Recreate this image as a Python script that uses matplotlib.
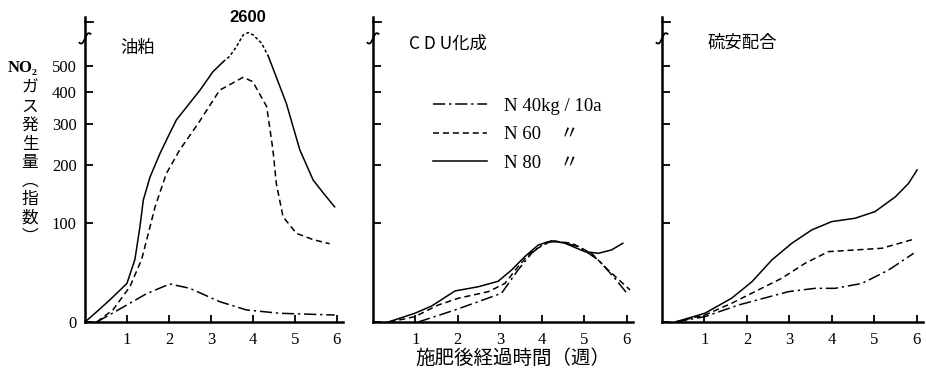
import numpy as np
import matplotlib.pyplot as plt
from matplotlib.lines import Line2D
import matplotlib.transforms as mtransforms

plt.rcParams['font.family'] = ['Liberation Serif', 'Noto Sans CJK JP']
JP = ['Noto Sans CJK JP', 'DejaVu Sans']

# ---- data (weeks after fertilising, NO2 index) ----
# 油粕 (oil cake)
oil_w40 = [0.28, 0.91, 1.47, 2.02, 2.5, 3.21, 3.85, 4.64, 5.95]
oil_v40 = [0, 11, 22, 30.5, 26.6, 15.3, 8.8, 6.3, 5]
oil_w60 = [0.28, 0.67, 1.07, 1.35, 1.51, 1.67, 1.94, 2.26, 2.7, 3.21, 3.77, 4.0, 4.33, 4.48, 4.56, 4.72, 5.04, 5.44, 5.83]
oil_v60 = [0, 9, 28, 55, 86, 124, 183, 234, 302, 407, 455, 438, 352, 234, 164, 109, 86, 78, 73]
oil_w80 = [0, 0.3, 0.6, 1.0, 1.19, 1.31, 1.39, 1.55, 1.79, 2.02, 2.18, 2.74, 3.05, 3.29,
           3.45, 3.61, 3.77, 3.89, 4.01, 4.21, 4.37, 4.8, 5.12, 5.44, 5.7, 5.95]
oil_v80 = [0, 8, 17, 31, 55, 95, 135, 176, 226, 275, 312, 407, 477, 518,
           543, 588, 2180, 2600, 2180, 743, 543, 362, 234, 170, 145, 124]

# CDU化成
cdu_w40 = [1.07, 1.94, 2.49, 3.04, 3.43, 3.75, 4.07, 4.38, 4.86, 5.33, 5.72, 6.04]
cdu_v40 = [0, 8.8, 15.3, 22.3, 43.9, 61.8, 74.3, 76, 69.6, 54.5, 35.8, 20.8]
cdu_w60 = [0.39, 0.99, 1.54, 2.02, 2.73, 3.12, 3.43, 3.75, 4.22, 4.70, 5.17, 5.56, 6.08]
cdu_v60 = [0, 3.8, 12.6, 18.1, 23.7, 31, 47.3, 63.7, 76.6, 73.6, 61.8, 43.9, 25.2]
cdu_w80 = [0.36, 0.99, 1.39, 1.94, 2.49, 2.96, 3.28, 3.59, 3.91, 4.22, 4.54, 5.01, 5.33, 5.64, 5.91]
cdu_v80 = [0, 6.3, 11.9, 24.3, 28, 33, 44, 58, 71.5, 76.6, 73.6, 63.7, 61.8, 65.6, 73.6]

# 硫安配合
sul_w40 = [0.31, 1.01, 1.8, 2.98, 3.61, 4.08, 4.71, 5.34, 5.93]
sul_v40 = [0, 3.8, 12.6, 23.7, 26.6, 26.6, 31, 43.9, 61.8]
sul_w60 = [0.31, 1.01, 1.64, 2.27, 2.82, 3.37, 3.92, 4.55, 5.18, 5.93]
sul_v60 = [0, 5, 14, 25.2, 35.8, 50.8, 63.7, 65.6, 67.6, 78.5]
sul_w80 = [0.31, 1.01, 1.64, 2.12, 2.59, 3.06, 3.53, 4.0, 4.55, 5.02, 5.5, 5.81, 6.01]
sul_v80 = [0, 6.3, 18.1, 32.6, 54.5, 73.6, 90.6, 102, 106.8, 116.6, 140.4, 164, 190]

titles = ['油粕', 'C D U化成', '硫安配合']
legend_labels = ['N 40kg / 10a', 'N 60    〃', 'N 80    〃']
yticks = [0, 100, 200, 300, 400, 500]
xticks = [1, 2, 3, 4, 5, 6]
peak_label = 2600

# ---- broken index axis: log(1+v/100) up to 600, compressed above ----
F600 = np.log(7)
D = 0.081


def fwd(v):
    v = np.asarray(v, float)
    low = np.log1p(np.maximum(v, -99) / 100)
    high = F600 + (v - 600) / 2000 * D
    return np.where(v <= 600, low, high)


def inv(f):
    f = np.asarray(f, float)
    low = 100 * np.expm1(np.minimum(f, 5))
    high = 600 + (f - F600) / D * 2000
    return np.where(f <= F600, low, high)


styles = {
    40: dict(ls=(0, (8, 2.5, 1.5, 2.5)), lw=1.1),
    60: dict(ls=(0, (4, 2.5)), lw=1.1),
    80: dict(ls='-', lw=1.1),
}

fig = plt.figure(figsize=(9.26, 3.73), dpi=100)
W, H = 926, 373
lefts = [85, 373, 662]
widths = [258, 260, 261]
bottom = (H - 322) / H
height = 305 / H

panels = [
    [(oil_w40, oil_v40), (oil_w60, oil_v60), (oil_w80, oil_v80)],
    [(cdu_w40, cdu_v40), (cdu_w60, cdu_v60), (cdu_w80, cdu_v80)],
    [(sul_w40, sul_v40), (sul_w60, sul_v60), (sul_w80, sul_v80)],
]
title_pos = [(0.136, 0.898), (0.138, 0.911), (0.173, 0.915)]

axes = []
for i in range(3):
    ax = fig.add_axes([lefts[i] / W, bottom, widths[i] / W, height])
    ax.set_yscale('function', functions=(fwd, inv))
    ax.set_xlim(0, 6.15)
    ax.set_ylim(0, 5290)
    for s in ['top', 'right']:
        ax.spines[s].set_visible(False)
    for s in ['left', 'bottom']:
        ax.spines[s].set_linewidth(1.8)
    ax.set_xticks(xticks)
    ax.set_xticklabels([str(t) for t in xticks], fontsize=12)
    ax.tick_params(axis='x', direction='in', length=5, width=1.3, pad=7)
    ax.set_yticks(yticks)
    if i == 0:
        ax.set_yticklabels([str(t) for t in yticks], fontsize=12)
    else:
        ax.set_yticklabels([''] * len(yticks))
    ax.tick_params(axis='y', direction='in', length=6, width=1.3, pad=6)
    ax.minorticks_off()

    for n, (w, v) in zip([40, 60, 80], panels[i]):
        w = np.array(w)
        v = np.array(v)
        if i == 0 and n == 80:
            # part above the break drawn dotted, as in the original
            lo = w <= 3.29
            hi = w >= 4.37
            mid = (w >= 3.29) & (w <= 4.37)
            ax.plot(w[lo], v[lo], color='k', **styles[n])
            ax.plot(w[hi], v[hi], color='k', **styles[n])
            ax.plot(w[mid], v[mid], color='k', lw=1.1, ls=(0, (2, 1.5)))
        else:
            ax.plot(w, v, color='k', **styles[n])

    ax.text(title_pos[i][0], title_pos[i][1], titles[i], transform=ax.transAxes,
            fontsize=12.5, family=JP, ha='left', va='center')

    # axis break mark and top tick
    t = np.linspace(-1, 1, 30)
    bx = (5.5 * t) / widths[i]
    by = 0.93 + (4.5 * t + 2.5 * np.sin(np.pi * t)) / 305
    ax.plot(bx, by, color='k', lw=1.3, transform=ax.transAxes, clip_on=False)
    ax.plot([0, 8 / widths[i]], [0.982, 0.982], color='k', lw=1.3,
            transform=ax.transAxes, clip_on=False)
    axes.append(ax)

# peak label
ax0 = axes[0]
trans = mtransforms.blended_transform_factory(ax0.transData, ax0.transAxes)
ax0.text(oil_w80[oil_v80.index(peak_label)], 0.997, str(peak_label), transform=trans,
         ha='center', va='center', fontsize=12, fontweight='bold', family='Liberation Sans')

# legend in the middle panel
handles = [Line2D([], [], color='k', **styles[n]) for n in [40, 60, 80]]
axes[1].legend(handles, legend_labels, loc='upper left', bbox_to_anchor=(0.23, 0.735),
               frameon=False, fontsize=13.5, handlelength=2.9, handletextpad=0.9,
               labelspacing=0.6, borderpad=0, borderaxespad=0)

# y label
fig.text(23 / W, 1 - 68 / H, 'NO₂', ha='center', va='center', fontsize=12,
         fontweight='bold', family=['Liberation Serif', 'DejaVu Serif'])
fig.text(30 / W, 1 - 80 / H, '\n'.join('ガス発生量︵指数︶'), ha='center', va='top',
         fontsize=12, family=JP, linespacing=1.12)

# x label
fig.text(513 / W, 1 - 358 / H, '施肥後経過時間（週）', ha='center', va='center',
         fontsize=14, family=JP)

fig.savefig('out.png', dpi=100)
